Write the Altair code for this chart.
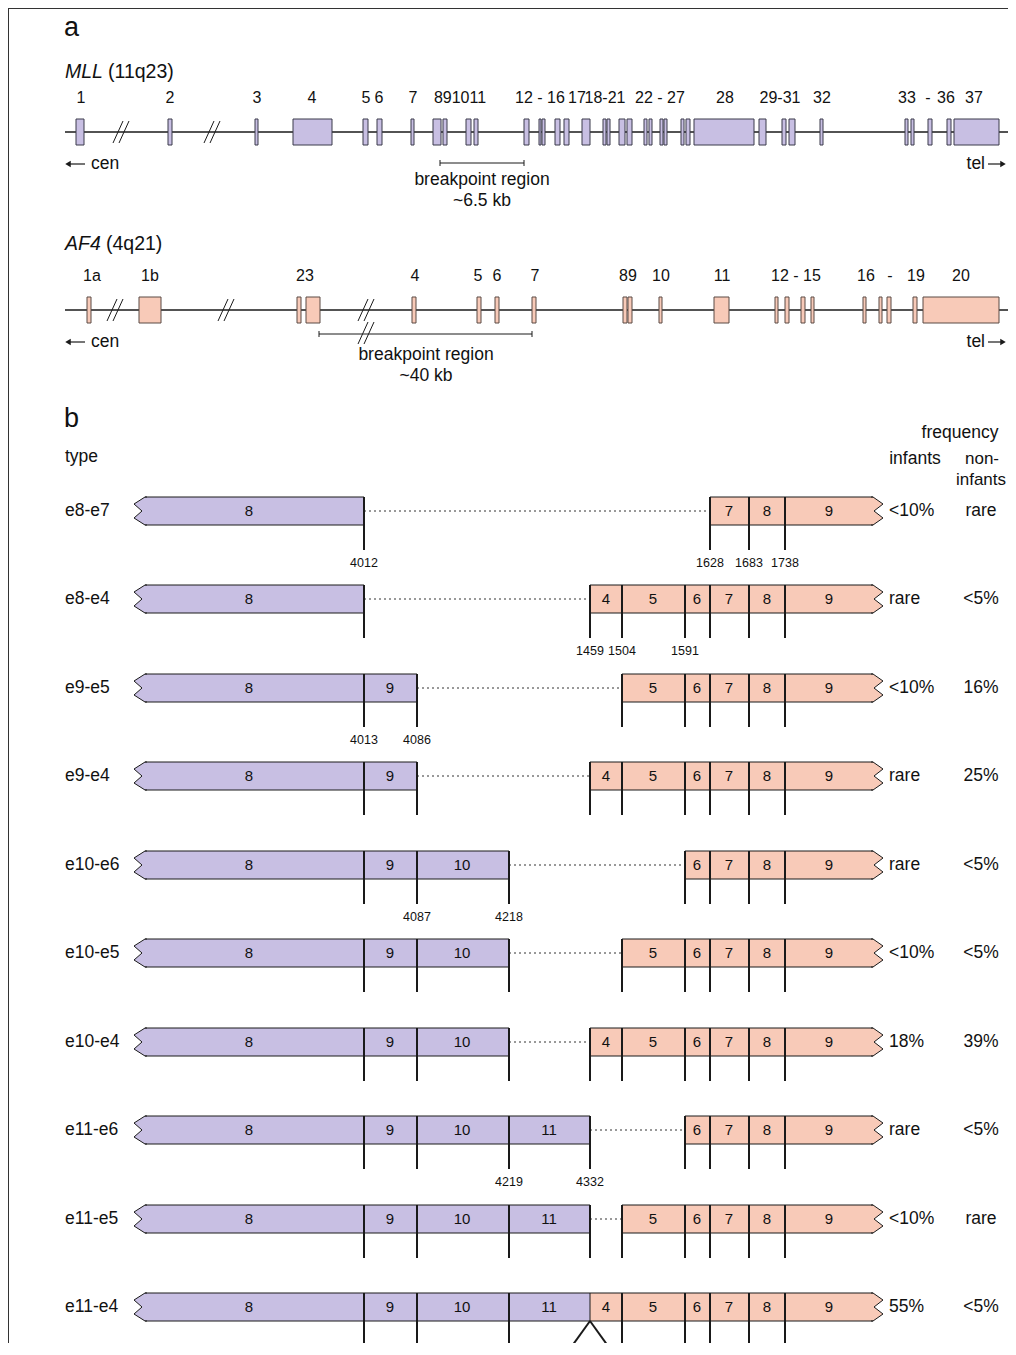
import altair as alt
import pandas as pd

FONT = "Liberation Sans"
LAV = "#c8bfe3"
SAL = "#f8cab8"
INK = "#1a1a1a"

# ---------------- part a : exon maps (image-pixel coordinates) ----------------
mll_exon_x1 = [76, 168, 255, 293, 363, 377, 411, 433, 443, 466, 474, 524, 539, 542, 555, 564, 582,
               603, 607, 619, 627, 644, 649, 660, 664, 681, 686, 694, 759, 782, 789, 820, 905, 911,
               928, 947, 954]
mll_exon_x2 = [84, 172, 258, 332, 368, 382, 414, 441, 447, 471, 478, 529, 541, 545, 560, 569, 590,
               606, 610, 625, 632, 647, 652, 663, 667, 684, 690, 754, 766, 786, 795, 823, 908, 914,
               932, 951, 999]
af4_exon_x1 = [87, 139, 297, 306, 412, 477, 495, 532, 623, 628, 659, 714, 775, 785, 801, 811, 863,
               879, 887, 913, 923]
af4_exon_x2 = [91, 161, 301, 320, 416, 481, 499, 536, 627, 632, 662, 729, 778, 789, 805, 814, 866,
               882, 891, 917, 999]

mll_lab_text = ["1", "2", "3", "4", "5", "6", "7", "891011", "12 - 16", "17", "18-21", "22 - 27", "28",
                "29-31", "32", "33", "-", "36", "37"]
mll_lab_x = [81, 170, 257, 312, 366, 379, 413, 460, 540, 577, 605, 660, 725, 780, 822, 907, 928, 946, 974]
af4_lab_text = ["1a", "1b", "23", "4", "5", "6", "7", "89", "10", "11", "12 - 15", "16", "-", "19", "20"]
af4_lab_x = [92, 150, 305, 415, 478, 497, 535, 628, 661, 722, 796, 866, 890, 916, 961]

MLL_Y, AF4_Y = 132, 310
mll_breaks = [121, 212]
af4_breaks = [115, 226, 366]
bp_bar_x1 = [440, 319]
bp_bar_x2 = [524, 532]
bp_bar_y = [163, 334]
bp_slash_x, bp_slash_y = 366, 333
bp_text_x = [482, 426]
bp_text_l1 = ["breakpoint region", "breakpoint region"]
bp_text_l2 = ["~6.5 kb", "~40 kb"]

# ---------------- part b : fusion transcripts ----------------
row_type = ["e8-e7", "e8-e4", "e9-e5", "e9-e4", "e10-e6", "e10-e5", "e10-e4", "e11-e6", "e11-e5", "e11-e4"]
row_y = [511, 599, 688, 776, 865, 953, 1042, 1130, 1219, 1307]
mll_last = [8, 8, 9, 9, 10, 10, 10, 11, 11, 11]
af4_first = [7, 4, 5, 4, 6, 5, 4, 6, 5, 4]
freq_inf = ["<10%", "rare", "<10%", "rare", "rare", "<10%", "18%", "rare", "<10%", "55%"]
freq_non = ["rare", "<5%", "16%", "25%", "<5%", "<5%", "39%", "<5%", "rare", "<5%"]

mll_b_exon = [8, 9, 10, 11]
mll_b_end = [364, 417, 509, 590]
mll_b_lab_x = [249, 390, 462, 549]
MLL_B_START = 145
af4_b_exon = [4, 5, 6, 7, 8, 9]
af4_b_start = [590, 622, 685, 710, 749, 785]
af4_b_lab_x = [606, 653, 697, 729, 767, 829]
AF4_B_END = 873

bp_row = [0, 0, 0, 0, 1, 1, 1, 2, 2, 4, 4, 7, 7]
bp_x = [364, 710, 749, 785, 590, 622, 685, 364, 417, 417, 509, 509, 590]
bp_num = ["4012", "1628", "1683", "1738", "1459", "1504", "1591", "4013", "4086", "4087", "4218",
          "4219", "4332"]

# notch glyphs (1 unit = 1 px when size = 4)
LEFT_NOTCH = "M2,-14L0,-14L-11,-7L-3,0L-11,7L0,14L2,14"
RIGHT_NOTCH = "M-2,-14L0,-14L10,-7L1,0L10,7L0,14L-2,14"

# ---------------- scales ----------------
XS = alt.Scale(domain=[8, 1008], nice=False, zero=False)
YS = alt.Scale(domain=[8, 1343], nice=False, zero=False, reverse=True)


def X(f="x"):
    return alt.X(f"{f}:Q", scale=XS, axis=None)


def Y(f="y"):
    return alt.Y(f"{f}:Q", scale=YS, axis=None)


layers = []

# frame
frame = pd.DataFrame({"x": [8.5, 8], "x2": [8.5, 1008], "y": [8, 8.5], "y2": [1343, 8.5]})
layers.append(alt.Chart(frame).mark_rule(color="#333", strokeWidth=1).encode(
    x=X(), x2=alt.X2("x2:Q"), y=Y(), y2=alt.Y2("y2:Q")))

# gene axes
gl = pd.DataFrame({"x": [65, 65], "x2": [1015, 1015], "y": [MLL_Y, AF4_Y]})
layers.append(alt.Chart(gl).mark_rule(color=INK, strokeWidth=1.6).encode(
    x=X(), x2=alt.X2("x2:Q"), y=Y()))

# break slashes
sl = []
for cx, cy in [(b, MLL_Y) for b in mll_breaks] + [(b, AF4_Y) for b in af4_breaks] + [(bp_slash_x, bp_slash_y)]:
    for o in (0, 6):
        sl.append({"x": cx - 8 + o, "y": cy + 11, "x2": cx + 2 + o, "y2": cy - 11})
layers.append(alt.Chart(pd.DataFrame(sl)).mark_rule(color=INK, strokeWidth=1).encode(
    x=X(), y=Y(), x2=alt.X2("x2:Q"), y2=alt.Y2("y2:Q")))

# exons
mll_ex = pd.DataFrame({"x": mll_exon_x1, "x2": mll_exon_x2, "y": MLL_Y - 13, "y2": MLL_Y + 13})
af4_ex = pd.DataFrame({"x": af4_exon_x1, "x2": af4_exon_x2, "y": AF4_Y - 13, "y2": AF4_Y + 13})
layers.append(alt.Chart(mll_ex).mark_rect(fill=LAV, stroke="#3a3a4a", strokeWidth=1).encode(
    x=X(), x2=alt.X2("x2:Q"), y=Y(), y2=alt.Y2("y2:Q")))
layers.append(alt.Chart(af4_ex).mark_rect(fill=SAL, stroke="#5a4a45", strokeWidth=1).encode(
    x=X(), x2=alt.X2("x2:Q"), y=Y(), y2=alt.Y2("y2:Q")))

# cen / tel arrows
arr = pd.DataFrame({"x": [70, 988, 70, 988], "x2": [85, 1001, 85, 1001], "y": [164, 164, 342, 342]})
layers.append(alt.Chart(arr).mark_rule(color=INK, strokeWidth=1.2).encode(x=X(), x2=alt.X2("x2:Q"), y=Y()))
heads_l = pd.DataFrame({"x": [68, 68], "y": [164, 342]})
heads_r = pd.DataFrame({"x": [1003, 1003], "y": [164, 342]})
layers.append(alt.Chart(heads_l).mark_point(shape="triangle-left", filled=True, color=INK, size=40, opacity=1).encode(x=X(), y=Y()))
layers.append(alt.Chart(heads_r).mark_point(shape="triangle-right", filled=True, color=INK, size=40, opacity=1).encode(x=X(), y=Y()))

# breakpoint bars
bb = pd.DataFrame({"x": bp_bar_x1, "x2": bp_bar_x2, "y": bp_bar_y})
layers.append(alt.Chart(bb).mark_rule(color=INK, strokeWidth=1).encode(x=X(), x2=alt.X2("x2:Q"), y=Y()))
bt = pd.DataFrame({"x": bp_bar_x1 + bp_bar_x2, "y": [v - 3 for v in bp_bar_y] * 2,
                   "y2": [v + 3 for v in bp_bar_y] * 2})
layers.append(alt.Chart(bt).mark_rule(color=INK, strokeWidth=1).encode(x=X(), y=Y(), y2=alt.Y2("y2:Q")))

# ---------------- part b geometry ----------------
mll_body, af4_body, edges, thin, ticks, dots, lam, box_lab, num_lab = [], [], [], [], [], [], [], [], []
lnotch, rnotch = [], []
for i, (c, last, first) in enumerate(zip(row_y, mll_last, af4_first)):
    mi = mll_b_exon.index(last)
    ai = af4_b_exon.index(first)
    mend = mll_b_end[mi]
    astart = af4_b_start[ai]
    mll_body.append({"x": MLL_B_START, "x2": mend, "y": c - 14, "y2": c + 14})
    af4_body.append({"x": astart, "x2": AF4_B_END, "y": c - 14, "y2": c + 14})
    for yy in (c - 14, c + 14):
        edges.append({"x": MLL_B_START, "x2": mend, "y": yy})
        edges.append({"x": astart, "x2": AF4_B_END, "y": yy})
    lnotch.append({"x": MLL_B_START, "y": c})
    rnotch.append({"x": AF4_B_END, "y": c})
    for xv in mll_b_end[:mi + 1] + af4_b_start[ai:]:
        if mend == astart and xv == mend:
            continue
        ticks.append({"x": xv, "y": c - 14, "y2": c + 39})
    if mend == astart:
        thin.append({"x": mend, "y": c - 14, "y2": c + 14})
        lam.append({"x": mend, "y": c + 14, "x2": mend - 18, "y2": c + 39})
        lam.append({"x": mend, "y": c + 14, "x2": mend + 18, "y2": c + 39})
    else:
        dots.append({"x": mend, "x2": astart, "y": c})
    for e, lx in zip(mll_b_exon[:mi + 1], mll_b_lab_x[:mi + 1]):
        box_lab.append({"x": lx, "y": c, "t": str(e)})
    for e, lx in zip(af4_b_exon[ai:], af4_b_lab_x[ai:]):
        box_lab.append({"x": lx, "y": c, "t": str(e)})
for r, xv, t in zip(bp_row, bp_x, bp_num):
    num_lab.append({"x": xv, "y": row_y[r] + 52, "t": t})

layers.append(alt.Chart(pd.DataFrame(dots)).mark_rule(color="#333", strokeWidth=1, strokeDash=[2, 3]).encode(
    x=X(), x2=alt.X2("x2:Q"), y=Y()))
layers.append(alt.Chart(pd.DataFrame(mll_body)).mark_rect(fill=LAV, strokeWidth=0).encode(
    x=X(), x2=alt.X2("x2:Q"), y=Y(), y2=alt.Y2("y2:Q")))
layers.append(alt.Chart(pd.DataFrame(af4_body)).mark_rect(fill=SAL, strokeWidth=0).encode(
    x=X(), x2=alt.X2("x2:Q"), y=Y(), y2=alt.Y2("y2:Q")))
layers.append(alt.Chart(pd.DataFrame(lnotch)).mark_point(
    shape=LEFT_NOTCH, size=4, filled=True, fill=LAV, stroke=INK, strokeWidth=1, opacity=1).encode(x=X(), y=Y()))
layers.append(alt.Chart(pd.DataFrame(rnotch)).mark_point(
    shape=RIGHT_NOTCH, size=4, filled=True, fill=SAL, stroke=INK, strokeWidth=1, opacity=1).encode(x=X(), y=Y()))
layers.append(alt.Chart(pd.DataFrame(edges)).mark_rule(color=INK, strokeWidth=1).encode(
    x=X(), x2=alt.X2("x2:Q"), y=Y()))
layers.append(alt.Chart(pd.DataFrame(thin)).mark_rule(color=INK, strokeWidth=1).encode(
    x=X(), y=Y(), y2=alt.Y2("y2:Q")))
layers.append(alt.Chart(pd.DataFrame(ticks)).mark_rule(color=INK, strokeWidth=2).encode(
    x=X(), y=Y(), y2=alt.Y2("y2:Q")))
layers.append(alt.Chart(pd.DataFrame(lam)).mark_rule(color=INK, strokeWidth=2).encode(
    x=X(), y=Y(), x2=alt.X2("x2:Q"), y2=alt.Y2("y2:Q")))

# ---------------- texts ----------------
center_txt = []
for t, x in zip(mll_lab_text, mll_lab_x):
    center_txt.append({"x": x, "y": 98, "t": t, "fs": 16})
for t, x in zip(af4_lab_text, af4_lab_x):
    center_txt.append({"x": x, "y": 276, "t": t, "fs": 16})
for x, l1, l2, y in zip(bp_text_x, bp_text_l1, bp_text_l2, [180, 355]):
    center_txt.append({"x": x, "y": y, "t": l1, "fs": 17.5})
    center_txt.append({"x": x, "y": y + 21, "t": l2, "fs": 17.5})
center_txt += [
    {"x": 960, "y": 433, "t": "frequency", "fs": 17.5},
    {"x": 915, "y": 459, "t": "infants", "fs": 17.5},
    {"x": 982, "y": 459, "t": "non-", "fs": 17},
    {"x": 981, "y": 480, "t": "infants", "fs": 17},
]
for c, f in zip(row_y, freq_non):
    center_txt.append({"x": 981, "y": c, "t": f, "fs": 17.5})
for d in box_lab:
    center_txt.append({**d, "fs": 15})
for d in num_lab:
    center_txt.append({**d, "fs": 12.5})

left_txt = [
    {"x": 64, "y": 28, "t": "a", "fs": 27},
    {"x": 64, "y": 419, "t": "b", "fs": 27},
    {"x": 108, "y": 72, "t": "(11q23)", "fs": 19.5},
    {"x": 106, "y": 244, "t": "(4q21)", "fs": 19.5},
    {"x": 91, "y": 164, "t": "cen", "fs": 17.5},
    {"x": 91, "y": 342, "t": "cen", "fs": 17.5},
    {"x": 65, "y": 457, "t": "type", "fs": 17.5},
]
for c, t, f in zip(row_y, row_type, freq_inf):
    left_txt.append({"x": 65, "y": c, "t": t, "fs": 17.5})
    left_txt.append({"x": 889, "y": c, "t": f, "fs": 17.5})

ital_txt = [{"x": 65, "y": 72, "t": "MLL", "fs": 19.5}, {"x": 65, "y": 244, "t": "AF4", "fs": 19.5}]
right_txt = [{"x": 985, "y": 164, "t": "tel", "fs": 17.5}, {"x": 985, "y": 342, "t": "tel", "fs": 17.5}]


def text_layer(rows, align, style="normal"):
    return alt.Chart(pd.DataFrame(rows)).mark_text(
        align=align, baseline="middle", font=FONT, color="#111", fontStyle=style).encode(
        x=X(), y=Y(), text="t:N", size=alt.Size("fs:Q", scale=None, legend=None))


layers.append(text_layer(center_txt, "center"))
layers.append(text_layer(left_txt, "left"))
layers.append(text_layer(ital_txt, "left", "italic"))
layers.append(text_layer(right_txt, "right"))

chart = alt.layer(*layers).properties(
    width=1000, height=1335, padding=0, autosize=alt.AutoSizeParams(type="none"),
    background="white",
).configure_view(stroke=None)

chart.save("out.html", embed_options={"renderer": "svg", "actions": False})
